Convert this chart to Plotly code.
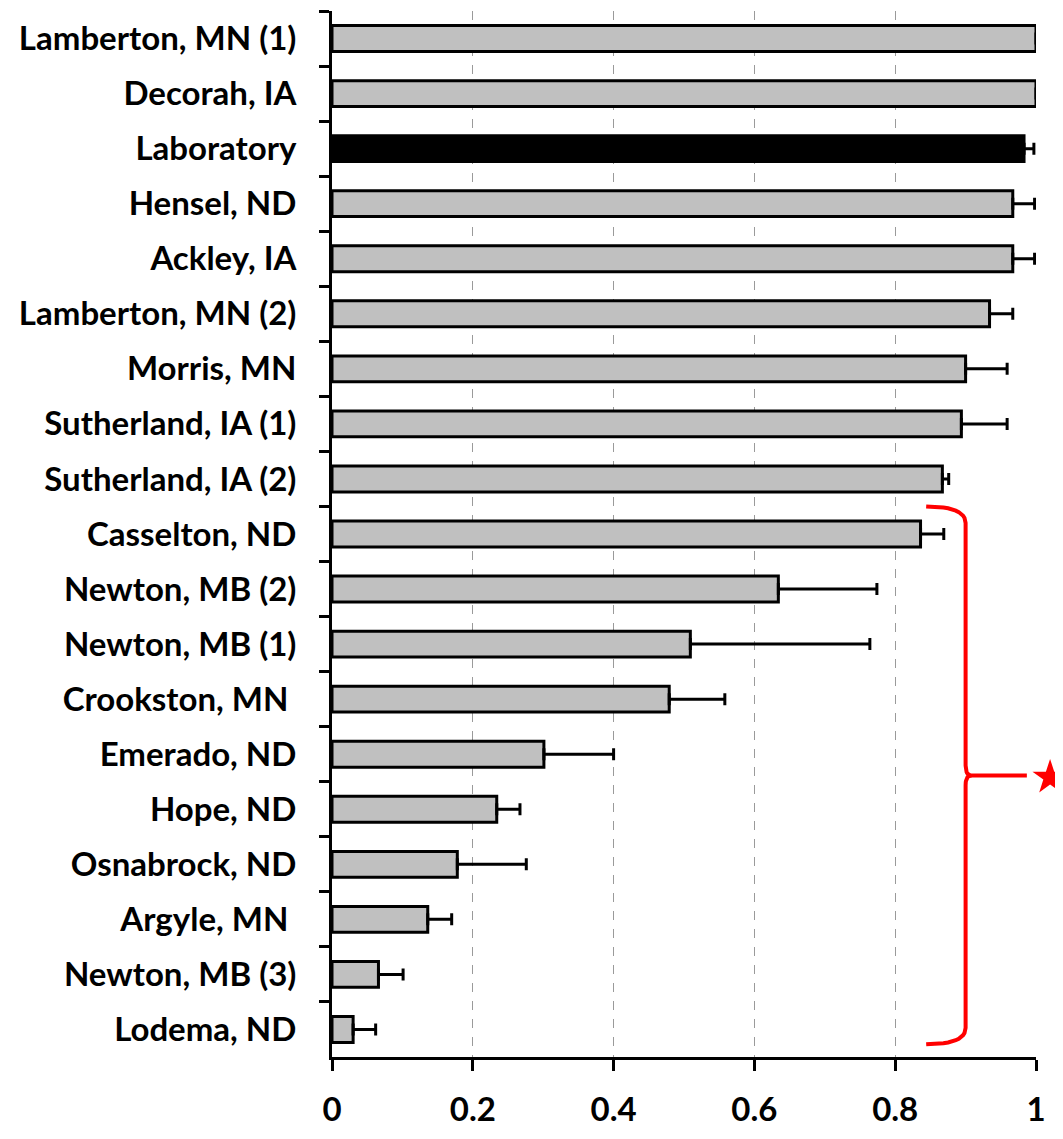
import math
import plotly.graph_objects as go

categories = [
    "Lamberton, MN (1)", "Decorah, IA", "Laboratory", "Hensel, ND", "Ackley, IA",
    "Lamberton, MN (2)", "Morris, MN", "Sutherland, IA (1)", "Sutherland, IA (2)",
    "Casselton, ND", "Newton, MB (2)", "Newton, MB (1)", "Crookston, MN ",
    "Emerado, ND", "Hope, ND", "Osnabrock, ND", "Argyle, MN ", "Newton, MB (3)",
    "Lodema, ND",
]
values = [1.0, 1.0, 0.983, 0.967, 0.967, 0.934, 0.900, 0.894, 0.867,
          0.836, 0.634, 0.509, 0.479, 0.301, 0.234, 0.178, 0.136, 0.066, 0.030]
errors = [0.0, 0.0, 0.014, 0.031, 0.031, 0.033, 0.059, 0.065, 0.009,
          0.033, 0.140, 0.255, 0.079, 0.099, 0.033, 0.098, 0.034, 0.035, 0.032]
x_ticks = [0, 0.2, 0.4, 0.6, 0.8, 1.0]
x_ticktext = ["0", "0.2", "0.4", "0.6", "0.8", "1"]
highlight = "Laboratory"
significant_first = "Casselton, ND"   # bracket spans from here to the last category

FONT = "Lato"
FSIZE = 33
n = len(categories)
colors = ["#000000" if c == highlight else "#C0C0C0" for c in categories]

fig = go.Figure()
fig.add_trace(go.Bar(
    x=values, y=categories, orientation="h",
    marker=dict(color=colors, line=dict(color="black", width=3)),
    width=0.47,
    error_x=dict(type="data", symmetric=False, array=errors,
                 arrayminus=[0] * n, color="black", thickness=3, width=6),
    showlegend=False, hoverinfo="x+y",
))

# bracket (curly brace) marking the significant group + star
i0 = categories.index(significant_first)
y_top = i0 - 0.5
y_bot = n - 1 + 0.27
y_mid = (y_top + y_bot) / 2
x_tip, x_stem, x_cusp, x_end, x_star = 0.844, 0.90, 0.908, 0.987, 1.02
dy = 0.3


def quad(p0, p1, p2, k=12):
    pts = []
    for j in range(k + 1):
        t = j / k
        pts.append(((1 - t) ** 2 * p0[0] + 2 * (1 - t) * t * p1[0] + t ** 2 * p2[0],
                    (1 - t) ** 2 * p0[1] + 2 * (1 - t) * t * p1[1] + t ** 2 * p2[1]))
    return pts


path = []
path += quad((x_tip, y_top), (x_stem, y_top), (x_stem, y_top + dy))
path += quad((x_stem, y_mid - dy * 0.6), (x_stem, y_mid), (x_cusp, y_mid))
path += [(x_end, y_mid)]
brace_x = [p[0] for p in path] + [None]
brace_y = [p[1] for p in path] + [None]
path2 = []
path2 += quad((x_cusp, y_mid), (x_stem, y_mid), (x_stem, y_mid + dy * 0.6))
path2 += quad((x_stem, y_bot - dy), (x_stem, y_bot), (x_tip, y_bot))
brace_x += [p[0] for p in path2]
brace_y += [p[1] for p in path2]

fig.add_trace(go.Scatter(
    x=brace_x, y=brace_y, yaxis="y2", mode="lines",
    line=dict(color="#FF0000", width=4), showlegend=False, hoverinfo="skip",
))

# star: filled five-point star shape, sized in pixels, anchored in paper coords
# (x axis spans 0..1, so paper x == data x)
star_paper_y = 1 - (y_mid + 0.5) / n
R_out, R_in, y_shift = 18.5, 7.1, -2.0
pts = []
for k in range(10):
    r = R_out if k % 2 == 0 else R_in
    a = math.pi / 2 + k * math.pi / 5
    pts.append((r * math.cos(a), r * math.sin(a) + y_shift))
star_path = "M " + " L ".join(f"{px:.2f},{py:.2f}" for px, py in pts) + " Z"
fig.add_shape(
    type="path", path=star_path, xref="paper", yref="paper",
    xsizemode="pixel", ysizemode="pixel", xanchor=x_star, yanchor=star_paper_y,
    fillcolor="#FF0000", line=dict(width=0), layer="above",
)

# the page body has an 8px margin, so the figure is sized/shifted to compensate
fig.update_layout(
    width=1055, height=1123,
    margin=dict(l=324, r=27, t=3, b=57),
    plot_bgcolor="white", paper_bgcolor="white",
    font=dict(family=FONT, size=FSIZE, color="black", weight="bold"),
    bargap=0.53,
    xaxis=dict(
        range=[0, 1], tickvals=x_ticks, ticktext=x_ticktext,
        showline=True, linecolor="black", linewidth=3,
        ticks="outside", ticklen=11, tickwidth=3, tickcolor="black",
        showgrid=True, gridcolor="#9a9a9a", gridwidth=1, griddash="dash",
        zeroline=False, ticklabelstandoff=10,
        tickfont=dict(family=FONT, size=FSIZE, color="black", weight="bold"),
        fixedrange=True,
    ),
    yaxis=dict(
        type="category", categoryorder="array", categoryarray=categories,
        range=[n - 0.5, -0.5],
        showline=True, linecolor="black", linewidth=3,
        ticks="outside", ticklen=10, tickwidth=3, tickcolor="black",
        tickson="boundaries", showgrid=False, ticklabelstandoff=26,
        tickfont=dict(family=FONT, size=FSIZE, color="black", weight="bold"),
        fixedrange=True,
    ),
    yaxis2=dict(
        overlaying="y", range=[n - 0.5, -0.5], visible=False, fixedrange=True,
    ),
)

fig.write_html("out.html")
